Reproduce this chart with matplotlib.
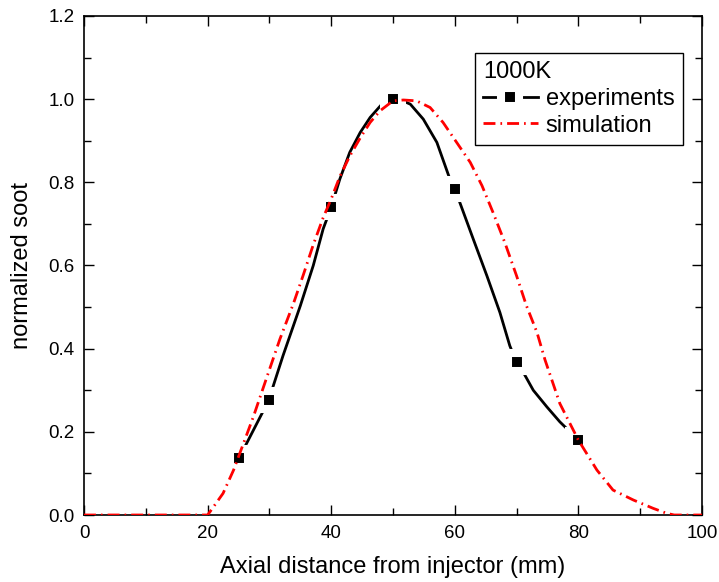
#!/usr/bin/env python3
"""Normalized soot vs axial distance, 1000K: experiments vs simulation -> out.png."""

import matplotlib

matplotlib.use("Agg")
import matplotlib.pyplot as plt  # noqa: E402
from matplotlib.lines import Line2D  # noqa: E402
from matplotlib.ticker import MultipleLocator  # noqa: E402

plt.rcParams["font.family"] = ["Liberation Sans", "DejaVu Sans"]

# measured points
EXP_X = [25, 30, 40, 50, 60, 70, 80]
EXP_Y = [0.137, 0.277, 0.740, 1.000, 0.785, 0.367, 0.181]

# smooth connector through the experiments
EXP_CURVE_X = [25, 26.1, 29.0, 30, 30.4, 32.2, 35.0, 37.1, 38.7, 40, 41.4, 43.0,
               44.7, 46.3, 48.2, 50, 51.7, 52.8, 54.9, 57.1, 59.2, 60, 60.8,
               63.0, 65.2, 67.3, 68.9, 70, 70.6, 72.7, 74.9, 77.0, 79.2, 80]
EXP_CURVE_Y = [0.137, 0.166, 0.250, 0.277, 0.300, 0.383, 0.503, 0.600, 0.688,
               0.740, 0.808, 0.872, 0.920, 0.956, 0.988, 1.000, 0.995, 0.988,
               0.952, 0.896, 0.808, 0.785, 0.752, 0.663, 0.575, 0.487, 0.407,
               0.367, 0.356, 0.300, 0.260, 0.224, 0.192, 0.181]

# simulation profile
SIM_X = [0, 20.0, 20.4, 22.5, 24.2, 25.8, 27.4, 29.6, 31.7, 33.9, 35.5, 37.1,
         38.7, 40.0, 41.4, 43.0, 44.7, 46.3, 47.9, 50.0, 51.7, 53.8, 56.0, 58.1,
         60.3, 62.5, 64.4, 66.2, 68.1, 70.0, 71.6, 73.3, 74.6, 77.0, 80.0, 83.0,
         85.6, 88.9, 92.1, 94.3, 95.5, 100]
SIM_Y = [0, 0, 0.008, 0.052, 0.108, 0.172, 0.236, 0.332, 0.423, 0.509, 0.578,
         0.650, 0.715, 0.760, 0.814, 0.863, 0.907, 0.944, 0.972, 0.996, 0.998,
         0.996, 0.980, 0.944, 0.896, 0.848, 0.792, 0.727, 0.655, 0.575, 0.503,
         0.439, 0.373, 0.268, 0.180, 0.108, 0.060, 0.036, 0.016, 0.004, 0, 0]

LW = 2.0
SIM_DASH = (4.3, 1.8, 0.6, 1.8)
MARK = dict(marker="s", ms=13, mfc="black", mec="white", mew=5.8)


def main():
    fig = plt.figure(figsize=(7.19, 5.82), dpi=100)
    ax = fig.add_axes([84 / 719, 67 / 582, 618 / 719, 499 / 582])

    ax.plot(EXP_CURVE_X, EXP_CURVE_Y, color="black", lw=LW, zorder=2,
            solid_joinstyle="round")
    ax.plot(EXP_X, EXP_Y, ls="none", zorder=3, **MARK)
    ax.plot(SIM_X, SIM_Y, color="red", lw=LW, dashes=SIM_DASH, zorder=4)

    ax.set_xlim(0, 100)
    ax.set_ylim(0, 1.2)
    ax.xaxis.set_major_locator(MultipleLocator(20))
    ax.xaxis.set_minor_locator(MultipleLocator(10))
    ax.yaxis.set_major_locator(MultipleLocator(0.2))
    ax.yaxis.set_minor_locator(MultipleLocator(0.1))
    ax.yaxis.set_major_formatter(lambda v, p: f"{v:.1f}")
    ax.tick_params(which="both", direction="in", top=True, right=True, width=1.0)
    ax.tick_params(which="major", length=7, labelsize=13.5, pad=7)
    ax.tick_params(which="minor", length=5)
    for s in ax.spines.values():
        s.set_linewidth(1.2)

    ax.set_xlabel("Axial distance from injector (mm)", fontsize=17, labelpad=10)
    ax.set_ylabel("normalized soot", fontsize=17, labelpad=11)

    handles = [
        Line2D([], [], color="black", lw=LW, **MARK),
        Line2D([], [], color="red", lw=LW, dashes=SIM_DASH),
    ]
    leg = ax.legend(handles, ["experiments", "simulation"], title="1000K",
                    loc="upper right", bbox_to_anchor=(0.969, 0.926),
                    borderaxespad=0, fontsize=17, title_fontsize=17,
                    alignment="left", fancybox=False, edgecolor="black",
                    framealpha=1, handlelength=2.3, handletextpad=0.35,
                    borderpad=0.35, labelspacing=0.2)
    leg.get_frame().set_linewidth(1.0)

    fig.savefig("out.png", dpi=100)
    plt.close(fig)


if __name__ == "__main__":
    main()
